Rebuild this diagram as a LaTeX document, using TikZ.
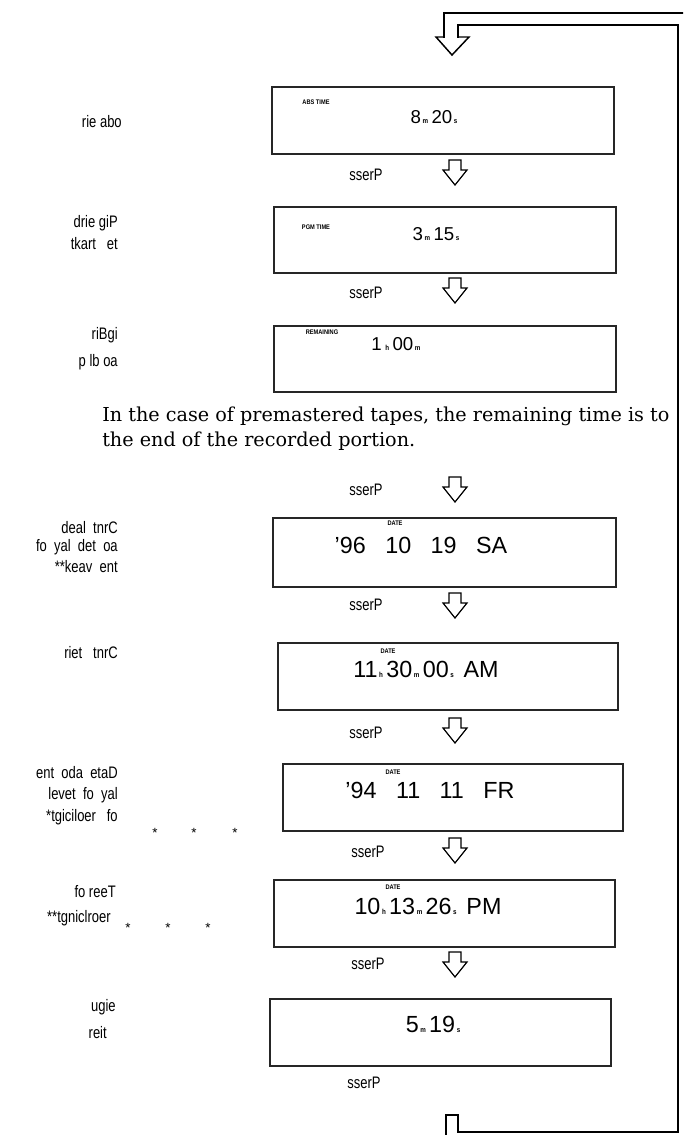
\documentclass[tikz,border=0pt]{standalone}
\usepackage{fontspec}
\newfontfamily\lcd{Liberation Sans}
\newfontfamily\cnd[FakeStretch=0.78]{Liberation Sans}
\newfontfamily\dtagfont[FakeStretch=0.85]{Liberation Sans Bold}
\newfontfamily\notefont{DejaVu Serif}
\newcommand\subu[1]{\hspace{1.2pt}{\fontsize{5.5pt}{6pt}\selectfont\dtagfont #1}\hspace{2.5pt}}
\tikzset{
  disp/.style={draw=black!85,line width=1pt,rectangle,inner sep=0pt,outer sep=0pt},
  dtag/.style={inner sep=0pt,font=\fontsize{5pt}{6pt}\selectfont\dtagfont},
  bigd/.style={anchor=base,inner sep=0pt,font=\fontsize{17.5pt}{18pt}\selectfont\lcd},
  smalld/.style={anchor=base,inner sep=0pt,font=\fontsize{14pt}{14pt}\selectfont\lcd},
  press/.style={inner sep=0pt,font=\fontsize{12.5pt}{14pt}\selectfont\cnd},
  lbl/.style={anchor=east,inner sep=0pt,font=\fontsize{12.5pt}{14pt}\selectfont\cnd},
  star/.style={inner sep=0pt,font=\fontsize{10pt}{10pt}\selectfont\lcd},
  loopl/.style={line width=1.6pt,line cap=rect},
  headl/.style={line width=1.1pt,line join=miter},
  arrl/.style={line width=0.9pt,line join=miter},
  downarr/.pic={\draw[arrl] (-6,0) -- (6,0) -- (6,10) -- (12,10) -- (0,25) -- (-12,10) -- (-6,10) -- cycle;}
}
\begin{document}
\begin{tikzpicture}[x=0.75pt,y=-0.75pt]
\useasboundingbox (0,0) rectangle (683,1135);
\clip (0,0) rectangle (683,1135);
% loop
\coordinate (lt1) at (444,37);
\coordinate (lt2) at (458,37);
\coordinate (tip) at (452,55);
\draw[loopl] (lt1) -- (444,13) -- (700,13);
\draw[loopl] (lt2) -- (458,25) -- (678,25) -- (678,1132) -- (458,1132) -- (458,1115) -- (446,1115) -- (446,1150);
\draw[headl] (lt1) -- (436,37) -- (tip) -- (469,37) -- (lt2);
% displays
\node[disp,minimum width={342*0.75pt},minimum height={67*0.75pt}] (b1) at (443,120.5) {};
\node[dtag] (t1) at (316,102) {ABS TIME};
\node[smalld] (d1) at (434,123) {8\subu{m}20\subu{s}};
\node[disp,minimum width={342*0.75pt},minimum height={66*0.75pt}] (b2) at (445,240) {};
\node[dtag] (t2) at (316,227) {PGM TIME};
\node[smalld] (d2) at (436,240) {3\subu{m}15\subu{s}};
\node[disp,minimum width={342*0.75pt},minimum height={66*0.75pt}] (b3) at (445,359) {};
\node[dtag] (t3) at (322,332) {REMAINING};
\node[smalld] (d3) at (396,350) {1\hspace{1.5pt}\subu{h}00\subu{m}};
\node[disp,minimum width={343*0.75pt},minimum height={69*0.75pt}] (b4) at (444.5,552.5) {};
\node[dtag] (t4) at (395,523) {DATE};
\node[bigd] (d4) at (421,553) {’96\ \ \ 10\ \ \ 19\ \ \ SA};
\node[disp,minimum width={340*0.75pt},minimum height={67*0.75pt}] (b5) at (448,676.5) {};
\node[dtag] (t5) at (388,651) {DATE};
\node[bigd] (d5) at (426,677) {11\subu{h}30\subu{m}00\subu{s}\ AM};
\node[disp,minimum width={340*0.75pt},minimum height={67*0.75pt}] (b6) at (453,797.5) {};
\node[dtag] (t6) at (393,772) {DATE};
\node[bigd] (d6) at (430,798) {’94\ \ \ 11\ \ \ 11\ \ \ FR};
\node[disp,minimum width={341*0.75pt},minimum height={67*0.75pt}] (b7) at (444.5,913.5) {};
\node[dtag] (t7) at (393,887) {DATE};
\node[bigd] (d7) at (428,914) {10\subu{h}13\subu{m}26\subu{s}\ PM};
\node[disp,minimum width={341*0.75pt},minimum height={67*0.75pt}] (b8) at (440.5,1032.5) {};
\node[bigd] (d8) at (433,1032) {5\subu{m}19\subu{s}};
% arrows and Press
\pic at (455,160) {downarr};
\node[press] (p1) at (366,175) {sserP};
\pic at (455,278) {downarr};
\node[press] (p2) at (366,293) {sserP};
\pic at (455,477) {downarr};
\node[press] (p3) at (366,490) {sserP};
\pic at (455,593) {downarr};
\node[press] (p4) at (366,605) {sserP};
\pic at (455,718) {downarr};
\node[press] (p5) at (366,733) {sserP};
\pic at (455,838) {downarr};
\node[press] (p6) at (368,852) {sserP};
\pic at (455,952) {downarr};
\node[press] (p7) at (368,964) {sserP};
\node[press] (p8) at (364,1083) {sserP};
% note
\node[anchor=base west,inner sep=0pt,font=\fontsize{14.4pt}{16pt}\selectfont\notefont] (n1) at (102,421) {In the case of premastered tapes, the remaining time is to};
\node[anchor=base west,inner sep=0pt,font=\fontsize{14.4pt}{16pt}\selectfont\notefont] (n2) at (102,446) {the end of the recorded portion.};
% left labels
\node[lbl] (l1) at (122,122) {rie abo};
\node[lbl] (l2a) at (118,223) {drie giP};
\node[lbl] (l2b) at (118,244) {tkart\ \ \ et};
\node[lbl] (l3a) at (118,335) {riBgi};
\node[lbl] (l3b) at (118,362) {p\ lb\ oa};
\node[lbl] (l4a) at (118,528) {deal\ \ tnrC};
\node[lbl] (l4b) at (118,547) {fo\ \ yal\ \ det\ \ oa};
\node[lbl] (l4c) at (118,567) {**keav\ \ ent};
\node[lbl] (l5) at (118,653) {riet\ \ \ tnrC};
\node[lbl] (l6a) at (118,773) {ent\ \ oda\ \ etaD};
\node[lbl] (l6b) at (118,795) {levet\ \ fo\ \ yal};
\node[lbl] (l6c) at (118,817) {*tgiciloer\ \ \ fo};
\node[star] (s1) at (155,833) {*};
\node[star] (s2) at (194,833) {*};
\node[star] (s3) at (235,833) {*};
\node[lbl] (l7a) at (116,892) {fo\ reeT};
\node[lbl] (l7b) at (111,918) {**tgniclroer};
\node[star] (s4) at (128,928) {*};
\node[star] (s5) at (168,928) {*};
\node[star] (s6) at (208,928) {*};
\node[lbl] (l8a) at (116,1007) {ugie};
\node[lbl] (l8b) at (107,1033) {reit};
\end{tikzpicture}
\end{document}
